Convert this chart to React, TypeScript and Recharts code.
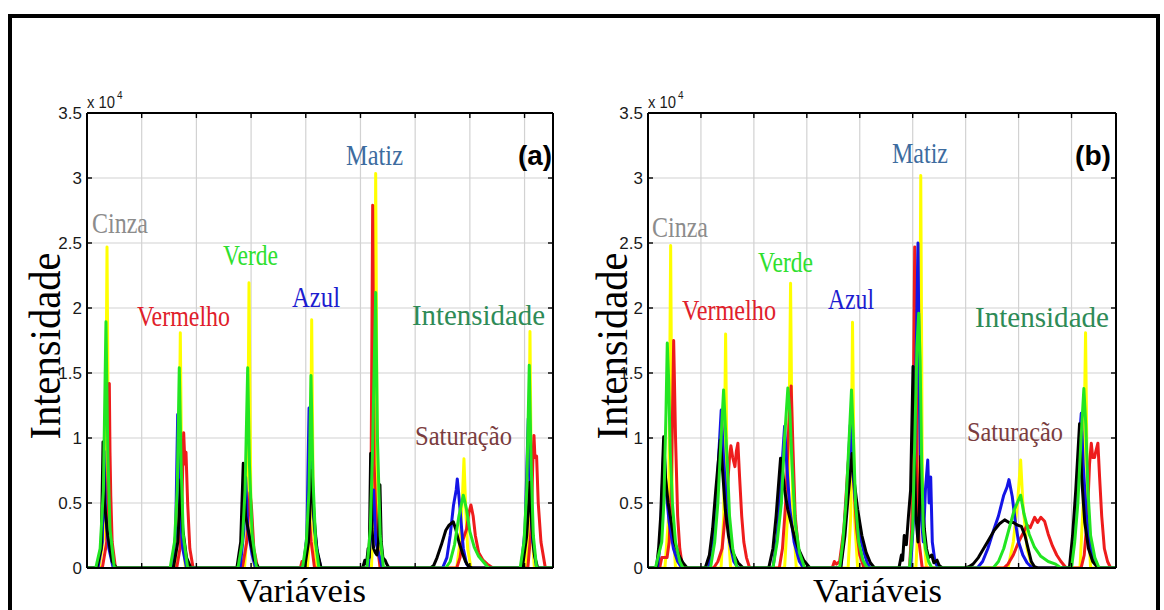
import React from 'react';
import { LineChart, Line, XAxis, YAxis, CartesianGrid } from 'recharts';

type P = [number, number];

// ---------- axis values ----------
const yTicks = [0, 5000, 10000, 15000, 20000, 25000, 30000, 35000];
const yTickLabels = ['0', '0.5', '1', '1.5', '2', '2.5', '3', '3.5'];
const xTicks = [0, 100, 200, 300, 400, 500, 600, 700, 800];
const groupLabels = ['Cinza', 'Vermelho', 'Verde', 'Azul', 'Matiz', 'Saturação', 'Intensidade'];

// ---------- panel (a) ----------
const aYellow: P[] = [
  [0, 0], [22, 0], [33, 3000], [36.6, 24700], [40, 3000], [48, 0],
  [160, 0], [167, 3000], [170.6, 18100], [174, 3000], [180, 0],
  [288, 0], [293, 3000], [296.2, 21950], [300, 3000], [306, 0],
  [403, 0], [408, 3000], [410.8, 19100], [414, 3000], [420, 0],
  [520, 0], [525, 5000], [527.8, 30350], [531, 5000], [536, 0],
  [676, 0], [682, 2000], [686, 5000], [689.2, 8400], [692, 5000], [696, 1500], [702, 0],
  [802, 0], [807, 3000], [809.9, 18200], [813, 3000], [818, 0], [852, 0],
];
const aRed: P[] = [
  [0, 0], [28, 0], [36, 2000], [39, 9000], [40.8, 14200], [42, 9000], [43.5, 5500], [46, 2000], [52, 0],
  [164, 0], [170, 1500], [174, 6000], [176.8, 10400], [179, 8000], [181, 8900], [184, 5000], [188, 1500], [194, 0],
  [284, 0], [292, 2000], [298, 5800], [301, 4500], [305, 1500], [312, 0],
  [390, 0], [393, 500], [396, 300], [400, 1500], [406, 4000], [410, 2000], [416, 0],
  [514, 0], [519, 4000], [522.3, 27900], [525, 8000], [530, 2000], [536, 0],
  [676, 0], [682, 800], [686, 2000], [690, 2500], [694, 3000], [698, 4200], [702, 4850], [706, 4000], [710, 2500], [716, 1200], [724, 600], [732, 300], [742, 0],
  [806, 0], [812, 3000], [815, 8000], [817.2, 10200], [819, 8500], [822, 8600], [825, 5000], [830, 2000], [838, 0], [852, 0],
];
const aBlue: P[] = [
  [0, 0], [20, 0], [28, 2000], [31, 9000], [34, 4000], [40, 1500], [48, 0],
  [155, 0], [162, 2500], [165.8, 11800], [169, 5000], [175, 1500], [182, 0],
  [280, 0], [287, 3000], [290, 7000], [294, 3000], [302, 1000], [308, 0],
  [396, 0], [402, 2500], [406, 12300], [410, 7000], [416, 3000], [422, 1000], [428, 0],
  [514, 0], [520, 3000], [524, 6000], [528, 2000], [534, 1000], [540, 0],
  [650, 0], [658, 800], [664, 2500], [670, 4800], [675, 6000], [677, 6850], [680, 5500], [684, 3500], [688, 1500], [694, 300], [700, 0],
  [794, 0], [801, 3000], [806.8, 11500], [810, 6000], [815, 2000], [822, 0], [852, 0],
];
const aBlack: P[] = [
  [0, 0], [18, 0], [26, 1500], [29.3, 9700], [32, 5000], [38, 2500], [46, 500], [54, 0],
  [158, 0], [166, 2000], [171.8, 6800], [175, 3000], [182, 800], [190, 0],
  [274, 0], [281, 2000], [285.7, 8050], [290, 4000], [300, 1800], [306, 600], [314, 0],
  [398, 0], [405, 2000], [411, 7500], [415, 4000], [420, 1500], [428, 0],
  [504, 0], [508, 600], [511, 300], [514, 1500], [516, 800], [518.6, 8800], [521, 3000], [524, 1500], [527, 1200], [530, 1000], [533, 2000], [535.6, 6400], [538, 2000], [541, 800], [545, 600], [548, 300], [552, 0],
  [628, 0], [634, 200], [640, 800], [648, 1800], [656, 2900], [662, 3300], [669.7, 3560], [674, 3000], [680, 2000], [686, 1200], [692, 500], [698, 100], [704, 0],
  [796, 0], [804, 2500], [809.9, 6600], [813, 3500], [818, 1000], [824, 0], [852, 0],
];
const aGreen: P[] = [
  [0, 0], [16, 0], [24, 1500], [30, 6000], [34.7, 18950], [38, 9000], [42, 3000], [50, 0],
  [152, 0], [160, 2000], [165, 6000], [168.7, 15400], [172, 8000], [176, 2500], [184, 0],
  [276, 0], [284, 2000], [289, 6000], [293.8, 15400], [297, 8000], [302, 2500], [310, 0],
  [394, 0], [401, 2000], [406, 6000], [409.5, 14800], [413, 7000], [418, 2000], [424, 0],
  [512, 0], [518, 3000], [522, 9000], [527.8, 21200], [531, 10000], [536, 2500], [542, 0],
  [656, 0], [664, 500], [672, 1800], [680, 4000], [688, 5600], [694, 4500], [700, 2800], [708, 1600], [716, 900], [726, 400], [734, 0],
  [792, 0], [799, 2000], [804, 6000], [808.6, 15600], [812, 8000], [816, 2500], [822, 0], [852, 0],
];

// ---------- panel (b) ----------
const bYellow: P[] = [
  [0, 0], [32, 0], [39, 4000], [42.8, 24800], [46, 4000], [52, 0],
  [138, 0], [143, 4000], [146.6, 18000], [150, 4000], [156, 0],
  [258, 0], [265, 5000], [269.3, 21900], [273, 5000], [280, 0],
  [378, 0], [383, 4000], [386.3, 18900], [390, 4000], [396, 0],
  [506, 0], [512, 5000], [515.2, 30200], [518, 8000], [520, 3000], [526, 0],
  [680, 0], [690, 2000], [698, 5000], [703.9, 8300], [708, 5000], [716, 1500], [726, 0],
  [816, 0], [822, 5000], [826.5, 18100], [830, 5000], [836, 0], [884, 0],
];
const bRed: P[] = [
  [0, 0], [22, 0], [26, 800], [36, 800], [40, 2000], [44, 6000], [48.5, 17500], [52, 10000], [56, 4000], [60, 1500], [64, 400], [70, 0],
  [124, 0], [132, 500], [140, 1500], [148, 5000], [154, 8500], [156.6, 9400], [160, 8500], [164.2, 7800], [167, 9000], [169.8, 9600], [173, 7000], [177, 4000], [181, 2000], [186, 800], [192, 0],
  [248, 0], [254, 1500], [260, 5000], [266, 11000], [270.4, 14000], [274, 9000], [278, 4000], [284, 1500], [292, 0],
  [348, 0], [352, 500], [356, 300], [362, 500], [370, 3000], [378, 8000], [384, 11000], [388, 7000], [394, 3000], [400, 1000], [408, 0],
  [494, 0], [498, 3000], [501, 12000], [503.8, 24700], [506, 20000], [508, 8000], [512, 2000], [518, 0],
  [672, 0], [680, 300], [690, 1000], [700, 2000], [710, 2800], [716, 3300], [722, 3100], [730.3, 3900], [736, 3500], [742, 3900], [749.1, 3600], [756, 2600], [764, 1700], [772, 1000], [780, 500], [790, 0],
  [818, 0], [824, 1000], [830, 4000], [834, 8000], [837.3, 9600], [840, 8500], [843.5, 8500], [846, 9000], [849.8, 9600], [853, 7000], [857, 4000], [862, 1500], [868, 500], [874, 0], [884, 0],
];
const bBlue: P[] = [
  [0, 0], [18, 0], [22, 1500], [26, 5000], [30, 9500], [34, 6000], [40, 3500], [48, 1500], [56, 500], [64, 0],
  [114, 0], [122, 1500], [128, 4000], [134, 9000], [138.3, 12150], [142, 9000], [148, 5000], [154, 2000], [162, 500], [170, 0],
  [236, 0], [244, 2500], [250, 6000], [258, 10900], [262, 8000], [268, 4500], [276, 2000], [286, 500], [294, 0],
  [364, 0], [370, 2500], [376, 6000], [382, 11000], [386, 8000], [392, 5000], [400, 2500], [408, 1200], [414, 400], [420, 0],
  [496, 0], [502, 4000], [506, 15000], [510, 25000], [513, 12000], [516, 4000], [520, 2000], [524, 6000], [528.4, 8300], [531, 5000], [534, 7000], [537, 2000], [542, 500], [548, 0],
  [622, 0], [632, 500], [642, 1500], [652, 2800], [662, 4000], [672, 5600], [678, 6200], [681.8, 6800], [688, 5500], [694, 3500], [700, 2000], [708, 1000], [716, 400], [726, 0],
  [798, 0], [804, 2500], [810, 6000], [815, 10000], [818.4, 11900], [822, 8000], [828, 4000], [836, 1500], [844, 400], [852, 0], [884, 0],
];
const bBlack: P[] = [
  [0, 0], [16, 0], [20, 1500], [24, 4000], [29.6, 10100], [33, 7000], [38, 5000], [44, 3500], [50, 2000], [58, 1000], [66, 400], [74, 0],
  [108, 0], [116, 1000], [122, 3000], [128, 6000], [136.4, 9850], [140, 8000], [146, 4500], [152, 2500], [160, 1200], [170, 400], [180, 0],
  [228, 0], [236, 1500], [242, 4000], [250.4, 8450], [254, 7500], [258, 6000], [264, 4500], [270, 3500], [276, 2500], [284, 1500], [294, 600], [306, 0],
  [364, 0], [372, 2500], [378, 5500], [385.5, 8800], [390, 6500], [396, 4500], [404, 2500], [412, 1200], [420, 400], [428, 0],
  [474, 0], [478.7, 1000], [481, 600], [484, 2500], [488, 1800], [492, 4000], [496, 6000], [500.6, 15500], [503, 9000], [506, 4000], [510, 2000], [513, 5000], [515.2, 8600], [518, 5000], [522, 3000], [526, 1500], [530, 800], [536, 1000], [540, 400], [546, 600], [550, 200], [556, 0],
  [598, 0], [606, 100], [614, 300], [624, 800], [634, 1500], [644, 2200], [654, 2900], [664, 3400], [673.7, 3700], [682, 3500], [690, 3500], [698, 3300], [705.2, 3200], [712, 2500], [718, 1500], [724, 500], [730, 100], [736, 0],
  [796, 0], [802, 2500], [808, 6000], [815.2, 11100], [819, 7000], [825, 3500], [832, 1500], [840, 500], [850, 0], [884, 0],
];
const bGreen: P[] = [
  [0, 0], [14, 0], [20, 1000], [26, 2000], [30, 5000], [34, 12000], [36.4, 17300], [39, 14500], [42, 9000], [46, 5000], [52, 2000], [60, 500], [66, 0],
  [118, 0], [126, 2000], [132, 5000], [138, 10000], [142.8, 13700], [146, 11000], [150, 8000], [154, 4000], [160, 1500], [168, 0],
  [236, 0], [244, 2000], [252, 5000], [258, 10000], [264.2, 13850], [268, 12000], [272, 8000], [278, 3500], [286, 1200], [296, 0],
  [362, 0], [368, 2000], [374, 5000], [380, 10000], [384.4, 13700], [388, 10000], [392, 5000], [398, 2000], [406, 600], [414, 0],
  [494, 0], [500, 3000], [504, 10000], [508, 17000], [511.4, 19600], [514, 16000], [517, 8000], [520, 3000], [524, 1500], [530, 500], [536, 0],
  [652, 0], [662, 500], [672, 1500], [682, 3000], [692, 4500], [703.9, 5600], [710, 4200], [720, 2600], [730, 1600], [742, 900], [756, 500], [770, 300], [780, 0],
  [800, 0], [806, 2000], [812, 5000], [818, 10000], [823.3, 13800], [827, 11000], [831, 6000], [836, 2500], [844, 800], [852, 0], [884, 0],
];

const COLORS: Record<string, string> = {
  yellow: '#ffff00',
  red: '#ee1c1c',
  blue: '#1414e6',
  black: '#000000',
  green: '#22e622',
};

const toPts = (arr: P[]) => arr.map(([x, y]) => ({ x, y }));

const panelA = [
  { key: 'yellow', data: toPts(aYellow) },
  { key: 'red', data: toPts(aRed) },
  { key: 'blue', data: toPts(aBlue) },
  { key: 'black', data: toPts(aBlack) },
  { key: 'green', data: toPts(aGreen) },
];
const panelB = [
  { key: 'yellow', data: toPts(bYellow) },
  { key: 'red', data: toPts(bRed) },
  { key: 'blue', data: toPts(bBlue) },
  { key: 'black', data: toPts(bBlack) },
  { key: 'green', data: toPts(bGreen) },
];

const axisLine = { stroke: '#000', strokeWidth: 2 };
const tickLine = { stroke: '#000', strokeWidth: 1.4 };
const NoTick = () => <g />;

function Panel(props: {
  left: number;
  width: number;
  xMax: number;
  margin: { top: number; right: number; bottom: number; left: number };
  series: { key: string; data: { x: number; y: number }[] }[];
}) {
  const { left, width, xMax, margin, series } = props;
  return (
    <div style={{ position: 'absolute', left, top: 0 }}>
      <LineChart width={width} height={610} margin={margin}>
        <CartesianGrid xAxisId="b" yAxisId="l" stroke="#d2d2d2" strokeWidth={1.2} />
        <XAxis
          xAxisId="b"
          type="number"
          dataKey="x"
          orientation="bottom"
          domain={[0, xMax]}
          ticks={xTicks}
          interval={0}
          allowDataOverflow
          mirror
          tick={NoTick}
          tickSize={5}
          axisLine={axisLine}
          tickLine={tickLine}
        />
        <XAxis
          xAxisId="t"
          type="number"
          dataKey="x"
          orientation="top"
          domain={[0, xMax]}
          ticks={xTicks}
          interval={0}
          allowDataOverflow
          mirror
          tick={NoTick}
          tickSize={5}
          axisLine={axisLine}
          tickLine={tickLine}
        />
        <YAxis
          yAxisId="l"
          type="number"
          orientation="left"
          domain={[0, 35000]}
          ticks={yTicks}
          interval={0}
          allowDataOverflow
          width={40}
          tickSize={0}
          tickMargin={5}
          axisLine={false}
          tickLine={false}
          tick={{ fill: '#1a1a1a', fontSize: 17, fontFamily: 'Liberation Sans, Arial, sans-serif' }}
          tickFormatter={(v: number) => yTickLabels[yTicks.indexOf(v)] ?? ''}
        />
        <YAxis
          yAxisId="lm"
          type="number"
          orientation="left"
          domain={[0, 35000]}
          ticks={yTicks}
          interval={0}
          allowDataOverflow
          mirror
          tick={NoTick}
          tickSize={5}
          axisLine={axisLine}
          tickLine={tickLine}
        />
        <YAxis
          yAxisId="r"
          type="number"
          orientation="right"
          domain={[0, 35000]}
          ticks={yTicks}
          interval={0}
          allowDataOverflow
          mirror
          tick={NoTick}
          tickSize={5}
          axisLine={axisLine}
          tickLine={tickLine}
        />
        {series.map((s) => (
          <Line
            key={s.key}
            xAxisId="b"
            yAxisId="l"
            data={s.data}
            dataKey="y"
            type="linear"
            dot={false}
            activeDot={false}
            stroke={COLORS[s.key]}
            strokeWidth={3}
            strokeLinejoin="round"
            isAnimationActive={false}
          />
        ))}
      </LineChart>
    </div>
  );
}

const SERIF = 'Liberation Serif, Times New Roman, serif';
const SANS = 'Liberation Sans, Arial, sans-serif';

type Lbl = { t: string; x: number; y: number; w: number; fs: number; c: string; bold?: boolean; sans?: boolean };

const labelsA: Lbl[] = [
  { t: groupLabels[0], x: 92, y: 233, w: 56, fs: 30, c: '#8c8c8c' },
  { t: groupLabels[1], x: 137, y: 326, w: 93, fs: 29, c: '#e0202a' },
  { t: groupLabels[2], x: 223, y: 265, w: 55, fs: 29, c: '#2ee02e' },
  { t: groupLabels[3], x: 292, y: 307, w: 48, fs: 29, c: '#1c1cd0' },
  { t: groupLabels[4], x: 346, y: 165, w: 57, fs: 29, c: '#3d6c9f' },
  { t: groupLabels[5], x: 415, y: 445, w: 97, fs: 28, c: '#7a3c3e' },
  { t: groupLabels[6], x: 412, y: 325, w: 133, fs: 29, c: '#2e8b57' },
  { t: '(a)', x: 518, y: 165, w: 34, fs: 28, c: '#000', bold: true, sans: true },
];
const labelsB: Lbl[] = [
  { t: groupLabels[0], x: 652, y: 237, w: 56, fs: 30, c: '#8c8c8c' },
  { t: groupLabels[1], x: 682, y: 320, w: 94, fs: 29, c: '#e0202a' },
  { t: groupLabels[2], x: 758, y: 272, w: 55, fs: 29, c: '#2ee02e' },
  { t: groupLabels[3], x: 828, y: 309, w: 46, fs: 29, c: '#1c1cd0' },
  { t: groupLabels[4], x: 892, y: 163, w: 56, fs: 29, c: '#3d6c9f' },
  { t: groupLabels[5], x: 967, y: 441, w: 96, fs: 28, c: '#7a3c3e' },
  { t: groupLabels[6], x: 975, y: 327, w: 134, fs: 29, c: '#2e8b57' },
  { t: '(b)', x: 1075, y: 165, w: 36, fs: 28, c: '#000', bold: true, sans: true },
];

function Overlay() {
  const all = [...labelsA, ...labelsB];
  return (
    <svg
      width={1164}
      height={610}
      style={{ position: 'absolute', left: 0, top: 0, pointerEvents: 'none' }}
    >
      {all.map((l, i) => (
        <text
          key={i}
          x={l.x}
          y={l.y}
          fill={l.c}
          fontSize={l.fs}
          fontFamily={l.sans ? SANS : SERIF}
          fontWeight={l.bold ? 'bold' : 'normal'}
          textLength={l.w}
          lengthAdjust="spacingAndGlyphs"
        >
          {l.t}
        </text>
      ))}
      {[87, 648].map((x0, i) => (
        <g key={'e' + i}>
          <text x={x0} y={108} fontSize={16} fontFamily={SANS} fill="#1a1a1a" textLength={28} lengthAdjust="spacingAndGlyphs">
            x 10
          </text>
          <text x={x0 + 30} y={99} fontSize={10} fontFamily={SANS} fill="#1a1a1a">
            4
          </text>
        </g>
      ))}
      {[
        { cx: 60, cy: 346 },
        { cx: 627, cy: 346 },
      ].map((p, i) => (
        <text
          key={'y' + i}
          transform={`translate(${p.cx},${p.cy}) rotate(-90)`}
          textAnchor="middle"
          fontSize={44}
          fontFamily={SERIF}
          fill="#000"
          textLength={187}
          lengthAdjust="spacingAndGlyphs"
        >
          Intensidade
        </text>
      ))}
      {[
        { x: 237 },
        { x: 813 },
      ].map((p, i) => (
        <text
          key={'x' + i}
          x={p.x}
          y={602}
          fontSize={33}
          fontFamily={SERIF}
          fill="#000"
          textLength={129}
          lengthAdjust="spacingAndGlyphs"
        >
          Variáveis
        </text>
      ))}
    </svg>
  );
}

export default function App() {
  return (
    <div style={{ position: 'absolute', left: 0, top: 0, width: 1164, height: 610, background: '#fff', overflow: 'hidden' }}>
      <div
        style={{
          position: 'absolute',
          left: 8,
          top: 14,
          width: 1152,
          height: 700,
          border: '4px solid #000',
          boxSizing: 'border-box',
        }}
      />
      <Panel left={0} width={600} xMax={852} margin={{ top: 113, left: 47, right: 47, bottom: 42 }} series={panelA} />
      <Panel left={560} width={600} xMax={884} margin={{ top: 113, left: 48, right: 44, bottom: 42 }} series={panelB} />
      <Overlay />
    </div>
  );
}
